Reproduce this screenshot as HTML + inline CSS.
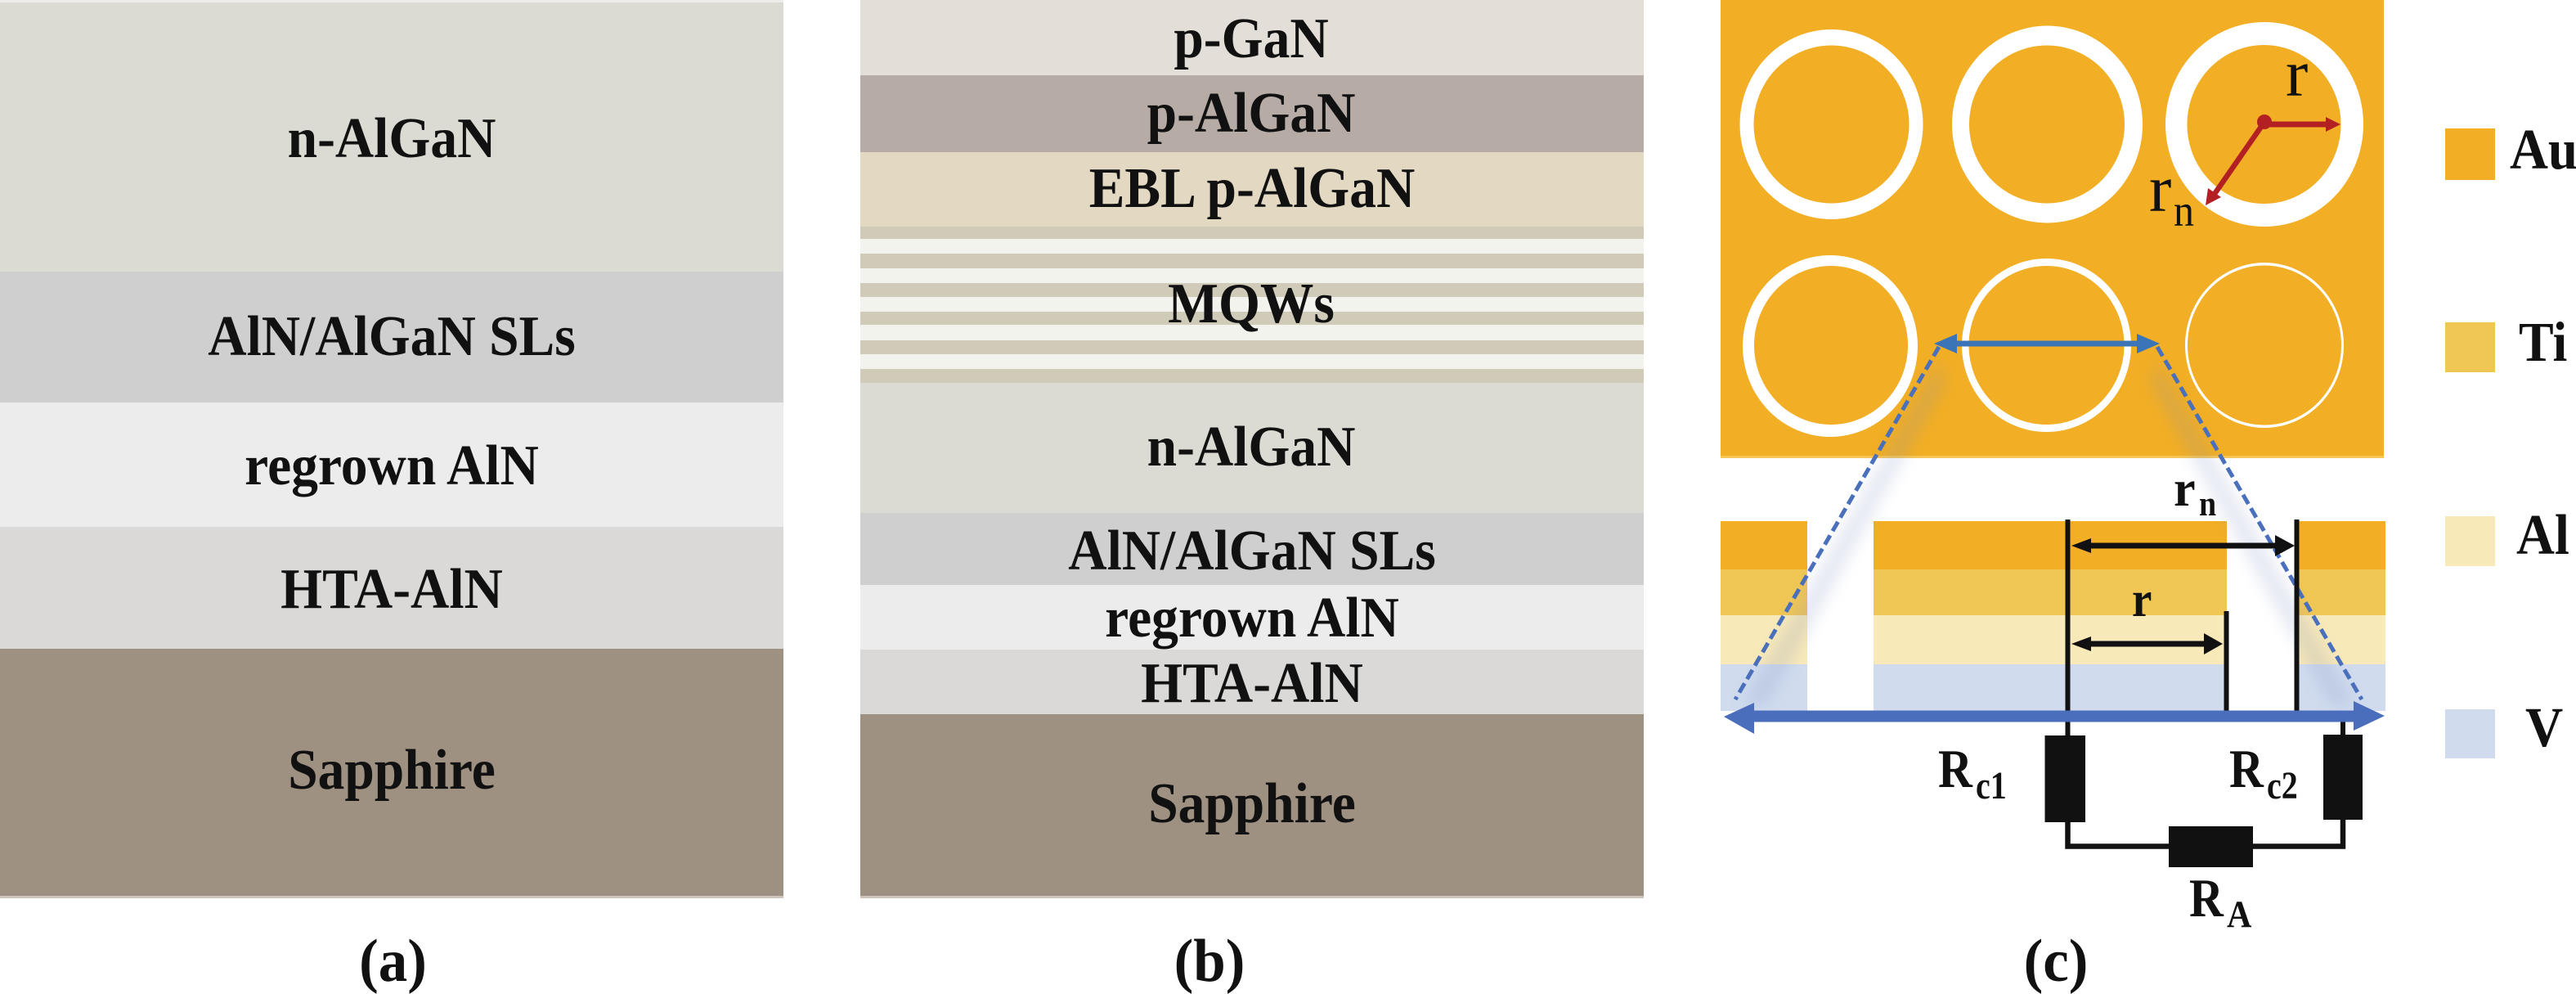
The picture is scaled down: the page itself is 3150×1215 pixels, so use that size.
<!DOCTYPE html>
<html><head><meta charset="utf-8"><style>
html,body{margin:0;padding:0;background:#fff;width:3150px;height:1215px;overflow:hidden}
svg{display:block}
text{font-family:"Liberation Serif",serif;font-weight:bold;fill:#111}
.l{font-size:65.5px;text-anchor:middle}
.p{font-size:71px;text-anchor:middle}
.n{font-weight:normal}
</style></head><body>
<svg width="3150" height="1215" viewBox="0 0 3150 1215" xmlns="http://www.w3.org/2000/svg">
<defs>
<filter id="b" x="-50%" y="-20%" width="200%" height="140%"><feGaussianBlur stdDeviation="9"/></filter>
</defs>
<!-- panel a -->
<rect x="0" y="0" width="958" height="3" fill="#ECECE8"/>
<rect x="0" y="3" width="958" height="330" fill="#DBDBD3"/>
<rect x="0" y="332" width="958" height="160" fill="#CFCFCF"/>
<rect x="0" y="492" width="958" height="152" fill="#ECECEC"/>
<rect x="0" y="644" width="958" height="149" fill="#DAD9D7"/>
<rect x="0" y="793" width="958" height="302" fill="#9F9182"/>
<rect x="0" y="1095" width="958" height="3" fill="#CDC5BB"/>
<text class="l" transform="translate(479,192) scale(1,1.07)">n-AlGaN</text>
<text class="l" transform="translate(479,434) scale(1,1.07)">AlN/AlGaN SLs</text>
<text class="l" transform="translate(479,592) scale(1,1.07)">regrown AlN</text>
<text class="l" transform="translate(479,743) scale(1,1.07)">HTA-AlN</text>
<text class="l" transform="translate(479,964) scale(1,1.07)">Sapphire</text>
<text class="p" transform="translate(480.5,1199) scale(1,1.04)">(a)</text>
<!-- panel b -->
<rect x="1052" y="0" width="958" height="92" fill="#E3DFD8"/>
<rect x="1052" y="92" width="958" height="94" fill="#B7ABA5"/>
<rect x="1052" y="186" width="958" height="91" fill="#E3D9C3"/>
<rect x="1052" y="277" width="958" height="191" fill="#F2F3EC"/>
<rect x="1052" y="277" width="958" height="15" fill="#CFCBB8"/>
<rect x="1052" y="310" width="958" height="18" fill="#CFCBB8"/>
<rect x="1052" y="346" width="958" height="17" fill="#CFCBB8"/>
<rect x="1052" y="381" width="958" height="16" fill="#CFCBB8"/>
<rect x="1052" y="416" width="958" height="17" fill="#CFCBB8"/>
<rect x="1052" y="451" width="958" height="17" fill="#CFCBB8"/>
<rect x="1052" y="468" width="958" height="159" fill="#DBDBD3"/>
<rect x="1052" y="627" width="958" height="88" fill="#CFCFCF"/>
<rect x="1052" y="715" width="958" height="79" fill="#ECECEC"/>
<rect x="1052" y="794" width="958" height="79" fill="#DAD9D7"/>
<rect x="1052" y="873" width="958" height="222" fill="#9F9182"/>
<rect x="1052" y="1095" width="958" height="3" fill="#CDC5BB"/>
<text class="l" transform="translate(1530,70) scale(1,1.07)">p-GaN</text>
<text class="l" transform="translate(1530,161) scale(1,1.07)">p-AlGaN</text>
<text class="l" transform="translate(1531,253) scale(1,1.07)">EBL p-AlGaN</text>
<text class="l" transform="translate(1530,394) scale(1,1.07)">MQWs</text>
<text class="l" transform="translate(1530,569) scale(1,1.07)">n-AlGaN</text>
<text class="l" transform="translate(1531,696) scale(1,1.07)">AlN/AlGaN SLs</text>
<text class="l" transform="translate(1531,778) scale(1,1.07)">regrown AlN</text>
<text class="l" transform="translate(1531,858) scale(1,1.07)">HTA-AlN</text>
<text class="l" transform="translate(1531,1005) scale(1,1.07)">Sapphire</text>
<text class="p" transform="translate(1479,1199) scale(1,1.04)">(b)</text>
<!-- panel c top -->
<rect x="2104" y="0" width="811" height="559" fill="#F2AE24"/>
<rect x="2104" y="557" width="811" height="3" fill="#F5C555"/>
<g fill="#fff">
<ellipse cx="2239.5" cy="152" rx="112" ry="116"/>
<ellipse cx="2503.5" cy="152" rx="116.5" ry="120.5"/>
<ellipse cx="2769" cy="152" rx="121" ry="125"/>
<ellipse cx="2238" cy="423" rx="107" ry="111"/>
<ellipse cx="2502.5" cy="422" rx="103.5" ry="106"/>
<ellipse cx="2769" cy="422" rx="97" ry="101"/>
</g>
<g fill="#F2AE24">
<ellipse cx="2239.5" cy="152" rx="95" ry="96.5"/>
<ellipse cx="2503" cy="152" rx="95" ry="96.5"/>
<ellipse cx="2768.5" cy="152" rx="94" ry="97"/>
<ellipse cx="2239" cy="422" rx="94" ry="97"/>
<ellipse cx="2502.5" cy="422" rx="95" ry="97"/>
<ellipse cx="2769" cy="422" rx="94" ry="97.5"/>
</g>
<!-- red arrows -->
<circle cx="2769" cy="149" r="9" fill="#B32024"/>
<line x1="2769" y1="152" x2="2848" y2="152" stroke="#B32024" stroke-width="7"/>
<polygon points="2862,152 2844,143 2844,161" fill="#B32024"/>
<line x1="2767" y1="152" x2="2708" y2="237" stroke="#B32024" stroke-width="6.5"/>
<polygon points="2697,251 2700,230 2716,241" fill="#B32024"/>
<text class="n" x="2795" y="117" font-size="82">r</text>
<text class="n" x="2628" y="258" font-size="82">r</text>
<text class="n" transform="translate(2658,276) scale(1,1.1)" font-size="50">n</text>
<!-- cross-section -->
<g>
<rect x="2104" y="637" width="106" height="59" fill="#F2AE24"/><rect x="2291" y="637" width="432" height="59" fill="#F2AE24"/><rect x="2811" y="637" width="106" height="59" fill="#F2AE24"/>
<rect x="2104" y="696" width="106" height="56" fill="#F0C655"/><rect x="2291" y="696" width="432" height="56" fill="#F0C655"/><rect x="2811" y="696" width="106" height="56" fill="#F0C655"/>
<rect x="2104" y="752" width="106" height="60" fill="#F8E9B9"/><rect x="2291" y="752" width="432" height="60" fill="#F8E9B9"/><rect x="2811" y="752" width="106" height="60" fill="#F8E9B9"/>
<rect x="2104" y="812" width="106" height="57" fill="#D0DBEE"/><rect x="2291" y="812" width="432" height="57" fill="#D0DBEE"/><rect x="2811" y="812" width="106" height="57" fill="#D0DBEE"/>
</g>
<!-- projection glow -->
<polygon points="2372,440 2130,862 2160,862 2378,470" fill="#7C8FC0" opacity=".2" filter="url(#b)"/>
<polygon points="2637,440 2880,862 2850,862 2631,470" fill="#7C8FC0" opacity=".2" filter="url(#b)"/>
<line x1="2371" y1="424" x2="2122" y2="855" stroke="#4A70BC" stroke-width="5" stroke-dasharray="13 6"/>
<line x1="2638" y1="424" x2="2888" y2="855" stroke="#4A70BC" stroke-width="5" stroke-dasharray="13 6"/>
<!-- small blue arrow -->
<line x1="2385" y1="420" x2="2625" y2="420" stroke="#3C74B8" stroke-width="7"/>
<polygon points="2365,420 2393,408 2393,432" fill="#3C74B8"/>
<polygon points="2641,420 2613,408 2613,432" fill="#3C74B8"/>
<!-- circuit lines -->
<g stroke="#111" fill="none">
<line x1="2528.5" y1="635" x2="2528.5" y2="900" stroke-width="6"/>
<line x1="2808.5" y1="635" x2="2808.5" y2="869" stroke-width="6"/>
<line x1="2722.5" y1="747" x2="2722.5" y2="869" stroke-width="6"/>
<line x1="2865" y1="880" x2="2865" y2="900" stroke-width="6"/>
<polyline points="2528.5,1005 2528.5,1034.5 2865,1034.5 2865,1002" stroke-width="6.5"/>
<line x1="2545" y1="667" x2="2795" y2="667" stroke-width="7"/>
<line x1="2545" y1="787" x2="2708" y2="787" stroke-width="7"/>
</g>
<g fill="#111">
<polygon points="2533,667 2557,658 2557,676"/>
<polygon points="2806,667 2782,654 2782,680"/>
<polygon points="2533,787 2557,778 2557,796"/>
<polygon points="2718,787 2695,774 2695,800"/>
<rect x="2500.5" y="899" width="49.5" height="106"/>
<rect x="2841" y="898" width="48" height="104"/>
<rect x="2652" y="1010" width="103" height="50"/>
</g>
<!-- big blue arrow -->
<line x1="2130" y1="875.5" x2="2895" y2="875.5" stroke="#4A6EBC" stroke-width="14"/>
<polygon points="2108,876 2145,859 2145,897" fill="#4A6EBC"/>
<polygon points="2916,875 2878,857 2878,893" fill="#4A6EBC"/>
<!-- c labels -->
<text transform="translate(2658,618) scale(1,1.05)" font-size="60">r</text>
<text transform="translate(2689,630) scale(1,1.15)" font-size="38">n</text>
<text transform="translate(2607,753) scale(1,1.12)" font-size="55">r</text>
<text transform="translate(2370,962) scale(1,1.15)" font-size="58">R</text><text transform="translate(2416,976) scale(1,1.2)" font-size="40">c1</text>
<text transform="translate(2726,962) scale(1,1.15)" font-size="58">R</text><text transform="translate(2772,976) scale(1,1.2)" font-size="40">c2</text>
<text transform="translate(2677,1120) scale(1,1.15)" font-size="58">R</text><text transform="translate(2723,1133) scale(1,1.1)" font-size="42">A</text>
<text class="p" transform="translate(2514,1199) scale(1,1.04)">(c)</text>
<!-- legend -->
<rect x="2990" y="157" width="61" height="63" fill="#F2AE24"/>
<rect x="2990" y="394" width="61" height="61" fill="#F0C655"/>
<rect x="2990" y="631" width="61" height="61" fill="#F8E9B9"/>
<rect x="2990" y="867" width="61" height="60" fill="#D0DBEE"/>
<text transform="translate(3069,206) scale(1,1.08)" font-size="65">Au</text>
<text transform="translate(3080,441) scale(1,1.08)" font-size="64">Ti</text>
<text transform="translate(3077,677) scale(1,1.08)" font-size="65">Al</text>
<text transform="translate(3088,912) scale(1,1.08)" font-size="64">V</text>
</svg>
</body></html>
